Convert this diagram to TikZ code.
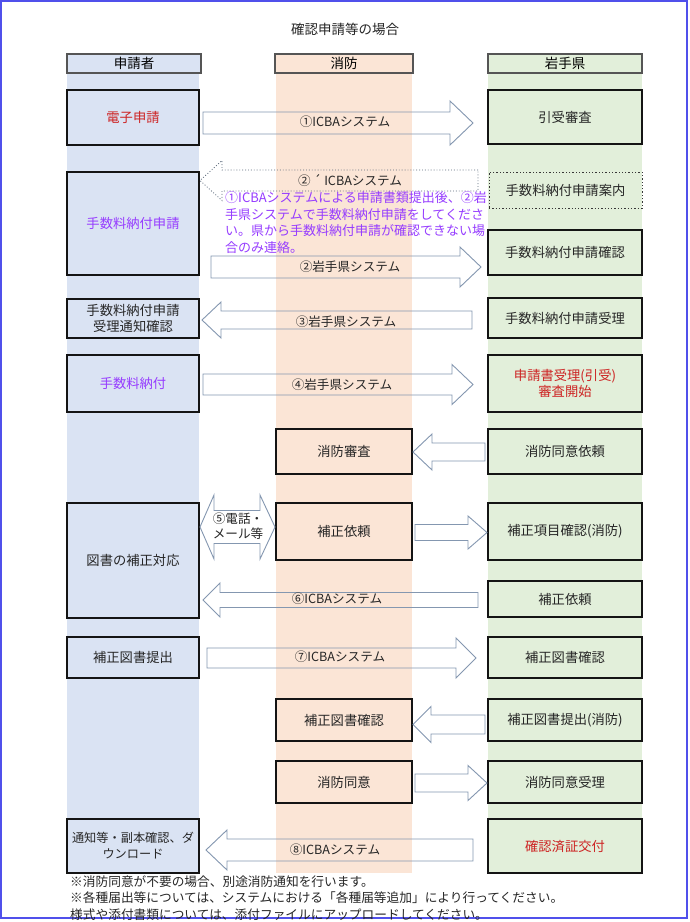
\documentclass[tikz,border=0pt]{standalone}
\usepackage{fontspec}
\setmainfont{Noto Sans CJK JP}
\definecolor{laneblue}{RGB}{218,227,243}
\definecolor{laneorange}{RGB}{251,229,214}
\definecolor{lanegreen}{RGB}{226,239,218}
\definecolor{txt}{RGB}{38,38,38}
\definecolor{boxline}{RGB}{20,20,20}
\definecolor{hdrline}{RGB}{85,85,85}
\definecolor{arrline}{RGB}{132,151,176}
\definecolor{redtxt}{RGB}{205,35,35}
\definecolor{purp}{RGB}{150,60,255}
\definecolor{frameblue}{RGB}{80,80,235}
\newcommand{\fsz}[2]{\fontsize{#1}{#2}\selectfont}
% right-pointing block arrow: [opt] x-left, x-tip, yc, shaft half, head half, head length
\newcommand{\blkR}[7][]{\draw[blk,#1] ({#2},{#4-#5}) -- ({#3-#7},{#4-#5}) -- ({#3-#7},{#4-#6}) -- ({#3},{#4}) -- ({#3-#7},{#4+#6}) -- ({#3-#7},{#4+#5}) -- ({#2},{#4+#5}) -- cycle;}
% left-pointing block arrow: [opt] x-tip, x-tail, yc, shaft half, head half, head length
\newcommand{\blkL}[7][]{\draw[blk,#1] ({#3},{#4-#5}) -- ({#2+#7},{#4-#5}) -- ({#2+#7},{#4-#6}) -- ({#2},{#4}) -- ({#2+#7},{#4+#6}) -- ({#2+#7},{#4+#5}) -- ({#3},{#4+#5}) -- cycle;}
\tikzset{
  bx/.style={draw=boxline, line width=1.3pt, inner sep=1pt, align=center, text=txt, font=\fsz{13.3}{16}},
  bxL/.style={bx, minimum width=132, fill=laneblue},
  bxO/.style={bx, minimum width=136, fill=laneorange},
  bxG/.style={bx, minimum width=154, fill=lanegreen},
  hdr/.style={draw=hdrline, line width=2pt, inner sep=0pt, minimum height=19, font=\fsz{13.5}{16}, text=black},
  blk/.style={draw=arrline, line width=0.9pt, line join=miter},
  lbl/.style={text=txt, font=\fsz{12.6}{15}, inner sep=0pt, align=center},
}
\begin{document}
\begin{tikzpicture}[x=1pt,y=-1pt]
\useasboundingbox (0,0) rectangle (690,922);
\fill[white] (0,0) rectangle (690,922);
\draw[frameblue, line width=1.4pt] (1,1) rectangle (687,918);

% title
\node[font=\fsz{13.5}{16}, text=txt] (title) at (345,29) {確認申請等の場合};

% lanes
\fill[laneblue] (67,73) rectangle (199,873);
\fill[laneorange] (276,73) rectangle (412,873);
\fill[lanegreen] (488,73) rectangle (642,873);

% headers
\node[hdr, fill=laneblue, minimum width=134] (h1) at (134,63.5) {申請者};
\node[hdr, fill=laneorange, minimum width=138] (h2) at (344,63.5) {消防};
\node[hdr, fill=lanegreen, minimum width=154] (h3) at (565,63.5) {岩手県};

% boxes: applicant
\node[bxL, minimum height=55, text=redtxt] (l1) at (133,117.5) {電子申請};
\node[bxL, minimum height=103, text=purp] (l2) at (133,223.5) {手数料納付申請};
\node[bxL, minimum height=39] (l3) at (133,318.5) {手数料納付申請\\受理通知確認};
\node[bxL, minimum height=57, text=purp] (l4) at (133,383.5) {手数料納付};
\node[bxL, minimum height=115] (l6) at (133,560.5) {図書の補正対応};
\node[bxL, minimum height=41] (l7) at (133,657.5) {補正図書提出};
\node[bxL, minimum height=54, font=\fsz{12.2}{16}] (l10) at (133,846) {通知等・副本確認、ダ\\ウンロード};

% boxes: fire department
\node[bxO, minimum height=45] (o5) at (344,451.5) {消防審査};
\node[bxO, minimum height=57] (o6) at (344,531.5) {補正依頼};
\node[bxO, minimum height=42] (o8) at (344,720) {補正図書確認};
\node[bxO, minimum height=42] (o9) at (344,782) {消防同意};

% boxes: prefecture
\node[bxG, minimum height=54] (g1) at (565,117) {引受審査};
\node[bx, draw=boxline!85, dotted, line width=0.8pt, minimum width=153, minimum height=36, fill=lanegreen] (g2a) at (565.5,190) {手数料納付申請案内};
\node[bxG, minimum height=45] (g2b) at (565,252.5) {手数料納付申請確認};
\node[bxG, minimum height=40] (g3) at (565,318) {手数料納付申請受理};
\node[bxG, minimum height=57, text=redtxt] (g4) at (565,383.5) {申請書受理(引受)\\審査開始};
\node[bxG, minimum height=45] (g5) at (565,451.5) {消防同意依頼};
\node[bxG, minimum height=57] (g6) at (565,531.5) {補正項目確認(消防)};
\node[bxG, minimum height=36] (g6b) at (565,599) {補正依頼};
\node[bxG, minimum height=41] (g7) at (565,657.5) {補正図書確認};
\node[bxG, minimum height=42] (g8) at (565,720) {補正図書提出(消防)};
\node[bxG, minimum height=42] (g9) at (565,782) {消防同意受理};
\node[bxG, minimum height=54, text=redtxt] (g10) at (565,846) {確認済証交付};

% block arrows
\blkR{203}{473}{123}{11}{22}{23}
\blkL[dotted, draw=arrline!70!black, line width=0.8pt]{200}{478}{180.5}{10.5}{20}{22}
\blkR{211}{481}{267}{11}{20}{21}
\blkL{202}{472}{320}{9}{18}{19}
\blkR{203}{473}{384.5}{10.5}{20}{21}
\blkL{413}{485}{452}{9}{18}{19}
\blkR{415}{487}{532.5}{8}{16.5}{19}
\draw[blk] (200,527) -- (214,495) -- (214,510.5) -- (260,510.5) -- (260,495) -- (275,527) -- (260,559) -- (260,543.5) -- (214,543.5) -- (214,559) -- cycle;
\blkL{203}{478}{600}{7.5}{17}{17}
\blkR{207}{476}{658}{10}{20}{20}
\blkL{413}{485}{724.5}{9.5}{18}{18}
\blkR{415}{487}{783}{9}{17.5}{19}
\blkL{206}{473}{850}{11}{20}{21}

% arrow labels
\node[lbl] (a1) at (345,122) {①ICBAシステム};
\node[lbl] (a2p) at (350,181) {②\hspace{3pt}´\hspace{3pt}ICBAシステム};
\node[lbl] (a2) at (350,267) {②岩手県システム};
\node[lbl] (a3) at (346,322) {③岩手県システム};
\node[lbl] (a4) at (342,385) {④岩手県システム};
\node[lbl, font=\fsz{12.6}{15}] (a5) at (238,526) {⑤電話・\\メール等};
\node[lbl] (a6) at (337,599) {⑥ICBAシステム};
\node[lbl] (a7) at (340,657) {⑦ICBAシステム};
\node[lbl] (a8) at (335,850) {⑧ICBAシステム};

% purple note
\node[anchor=west, align=left, inner sep=0pt, text=purp, font=\fsz{13}{16.5}] (pnote) at (225,222.5)
  {①ICBAシステムによる申請書類提出後、②岩\\手県システムで手数料納付申請をしてくださ\\い。県から手数料納付申請が確認できない場\\合のみ連絡。};

% bottom notes
\node[anchor=west, align=left, inner sep=0pt, text=txt, font=\fsz{12.7}{16.5}] (notes) at (70,898)
  {※消防同意が不要の場合、別途消防通知を行います。\\※各種届出等については、システムにおける「各種届等追加」により行ってください。\\様式や添付書類については、添付ファイルにアップロードしてください。};
\end{tikzpicture}
\end{document}
